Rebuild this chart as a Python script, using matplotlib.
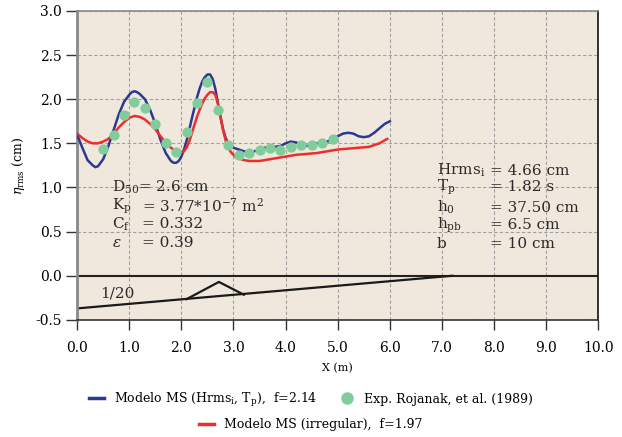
import matplotlib
matplotlib.use('Agg')
import matplotlib.pyplot as plt
from matplotlib.lines import Line2D

plt.rcParams['font.family'] = ['DejaVu Serif']
plt.rcParams['mathtext.fontset'] = 'dejavuserif'

# model, regular waves (Hrms_i, Tp)
x_blue = [0.0, 0.1, 0.2, 0.3, 0.35, 0.4, 0.5, 0.6, 0.7, 0.8, 0.9, 1.0, 1.05, 1.1, 1.15, 1.2, 1.3, 1.4,
          1.5, 1.6, 1.7, 1.8, 1.85, 1.9, 1.95, 2.0, 2.05, 2.1, 2.15, 2.2, 2.25, 2.3, 2.35, 2.4,
          2.45, 2.5, 2.55, 2.6, 2.65, 2.7, 2.75, 2.8, 2.85, 2.9, 2.95, 3.0, 3.1, 3.2, 3.3,
          3.4, 3.5, 3.6, 3.7, 3.8, 3.9, 4.0, 4.1, 4.2, 4.3, 4.4, 4.5, 4.6, 4.7, 4.8, 4.9,
          5.0, 5.1, 5.2, 5.3, 5.4, 5.5, 5.6, 5.7, 5.8, 5.9, 6.0]
y_blue = [1.60, 1.45, 1.31, 1.25, 1.23, 1.24, 1.32, 1.47, 1.65, 1.83, 1.97, 2.05, 2.08, 2.09, 2.08, 2.06, 2.00, 1.88,
          1.72, 1.54, 1.39, 1.30, 1.28, 1.28, 1.30, 1.35, 1.43, 1.53, 1.65, 1.78, 1.90, 2.02, 2.12, 2.20,
          2.25, 2.28, 2.28, 2.23, 2.12, 1.96, 1.80, 1.66, 1.56, 1.50, 1.47, 1.45, 1.43, 1.41, 1.40,
          1.41, 1.43, 1.45, 1.46, 1.46, 1.47, 1.50, 1.52, 1.51, 1.49, 1.47, 1.48, 1.50, 1.51, 1.52, 1.55,
          1.58, 1.61, 1.62, 1.61, 1.58, 1.57, 1.58, 1.62, 1.67, 1.72, 1.75]

# model, irregular waves
x_red = [0.0, 0.1, 0.2, 0.3, 0.4, 0.5, 0.6, 0.7, 0.8, 0.9, 1.0, 1.1, 1.2, 1.3, 1.4,
         1.5, 1.6, 1.7, 1.8, 1.9, 1.95, 2.0, 2.05, 2.1, 2.15, 2.2, 2.25, 2.3, 2.35, 2.4,
         2.45, 2.5, 2.55, 2.6, 2.65, 2.7, 2.75, 2.8, 2.85, 2.9, 2.95, 3.0, 3.05, 3.1, 3.2,
         3.3, 3.4, 3.5, 3.6, 3.7, 3.8, 3.9, 4.0, 4.2, 4.4, 4.6, 4.8, 5.0, 5.2, 5.4, 5.6,
         5.8, 5.95]
y_red = [1.61, 1.56, 1.52, 1.50, 1.50, 1.52, 1.55, 1.61, 1.68, 1.74, 1.79, 1.81, 1.80, 1.77, 1.72,
         1.66, 1.58, 1.51, 1.45, 1.41, 1.40, 1.40, 1.41, 1.45, 1.52, 1.61, 1.71, 1.80, 1.88, 1.95,
         2.01, 2.05, 2.08, 2.08, 2.05, 1.95, 1.80, 1.65, 1.53, 1.45, 1.40, 1.37, 1.34, 1.33, 1.31,
         1.30, 1.30, 1.30, 1.31, 1.32, 1.33, 1.34, 1.35, 1.37, 1.38, 1.39, 1.41, 1.43, 1.44, 1.45, 1.46,
         1.50, 1.55]

# experiment, Rojanak et al. (1989)
x_exp = [0.5, 0.7, 0.9, 1.1, 1.3, 1.5, 1.7, 1.9, 2.1, 2.3, 2.5, 2.7, 2.9, 3.1, 3.3, 3.5,
         3.7, 3.9, 4.1, 4.3, 4.5, 4.7, 4.9]
y_exp = [1.44, 1.59, 1.82, 1.97, 1.90, 1.72, 1.50, 1.40, 1.63, 1.96, 2.20, 1.88, 1.48, 1.37,
         1.39, 1.43, 1.45, 1.42, 1.46, 1.48, 1.48, 1.50, 1.55]

# bottom profile: 1/20 slope and submerged bar
x_slope = [0.0, 7.2]
y_slope = [-0.37, 0.0]
x_bar = [2.1, 2.72, 3.2]
y_bar = [-0.265, -0.07, -0.215]

fig = plt.figure(figsize=(6.22, 4.37), dpi=100)
ax = fig.add_axes([0.124, 0.268, 0.838, 0.707])
ax.set_facecolor('#f0e8dc')

ax.grid(True, color='#a0a0a0', linestyle=(0, (3, 2)), linewidth=0.8)
ax.set_axisbelow(True)

ax.axhline(0.0, color='#222222', lw=1.5, zorder=2)
ax.plot(x_slope, y_slope, color='#1a1a1a', lw=1.6, zorder=2)
ax.plot(x_bar, y_bar, color='#1a1a1a', lw=1.6, zorder=2)

ax.plot(x_blue, y_blue, color='#2b3990', lw=1.8, zorder=3, solid_joinstyle='round')
ax.plot(x_red, y_red, color='#ee2d2d', lw=1.8, zorder=3, solid_joinstyle='round')
ax.scatter(x_exp, y_exp, s=55, color='#80cc9a', zorder=4, linewidths=0)

ax.set_xlim(0, 10)
ax.set_ylim(-0.5, 3.0)
ax.set_xticks([0, 1, 2, 3, 4, 5, 6, 7, 8, 9, 10])
ax.set_xticklabels(['%.1f' % v for v in ax.get_xticks()])
ax.set_yticks([-0.5, 0.0, 0.5, 1.0, 1.5, 2.0, 2.5, 3.0])
ax.set_yticklabels(['%.1f' % v for v in ax.get_yticks()])
ax.tick_params(axis='both', labelsize=10, color='#333333', width=1.0)
ax.tick_params(axis='y', length=8, pad=3)
ax.tick_params(axis='x', length=7, pad=8)

ax.spines['left'].set_color('#8a8a8a')
ax.spines['left'].set_linewidth(2.0)
ax.spines['top'].set_color('#8a8a8a')
ax.spines['top'].set_linewidth(1.2)
ax.spines['right'].set_color('#111111')
ax.spines['right'].set_linewidth(1.2)
ax.spines['bottom'].set_color('#333333')
ax.spines['bottom'].set_linewidth(1.2)

ax.set_xlabel('X (m)', fontsize=8, labelpad=6)
ax.set_ylabel(r'$\eta_{\rm rms}$ (cm)', fontsize=9, labelpad=6)

tk = dict(fontsize=11, color='#2a2a2a', va='center', zorder=5)
ax.text(0.66, 1.0, r'D$_{50}$= 2.6 cm', **tk)
ax.text(0.66, 0.79, r'K$_{\rm p}$', **tk)
ax.text(1.24, 0.79, r'= 3.77*10$^{-7}$ m$^2$', **tk)
ax.text(0.66, 0.585, r'C$_{\rm f}$', **tk)
ax.text(1.24, 0.585, '= 0.332', **tk)
ax.text(0.66, 0.37, r'$\varepsilon$', **tk)
ax.text(1.24, 0.37, '= 0.39', **tk)

right_names = [r'Hrms$_{\rm i}$', r'T$_{\rm p}$', r'h$_0$', r'h$_{\rm pb}$', 'b']
right_vals = ['= 4.66 cm', '= 1.82 s', '= 37.50 cm', '= 6.5 cm', '= 10 cm']
right_y = [1.19, 1.0, 0.77, 0.57, 0.36]
for nm, vl, yy in zip(right_names, right_vals, right_y):
    ax.text(6.9, yy, nm, **tk)
    ax.text(7.93, yy, vl, **tk)

ax.text(0.45, -0.2, '1/20', fontsize=11, color='#2a2a2a', va='center')

h_blue = Line2D([], [], color='#2b3990', lw=2.5)
h_red = Line2D([], [], color='#ee2d2d', lw=2.5)
h_exp = Line2D([], [], color='#80cc9a', marker='o', ls='none', markersize=8)
leg_kw = dict(frameon=False, fontsize=9, handlelength=1.2, handletextpad=0.8)
fig.legend([h_blue, h_exp],
           [r'Modelo MS (Hrms$_{\rm i}$, T$_{\rm p}$),  f=2.14', 'Exp. Rojanak, et al. (1989)'],
           loc='center', bbox_to_anchor=(0.5, 0.085), ncol=2, columnspacing=1.8, **leg_kw)
fig.legend([h_red], ['Modelo MS (irregular),  f=1.97'],
           loc='center', bbox_to_anchor=(0.5, 0.028), **leg_kw)

fig.savefig('out.png', dpi=100)
